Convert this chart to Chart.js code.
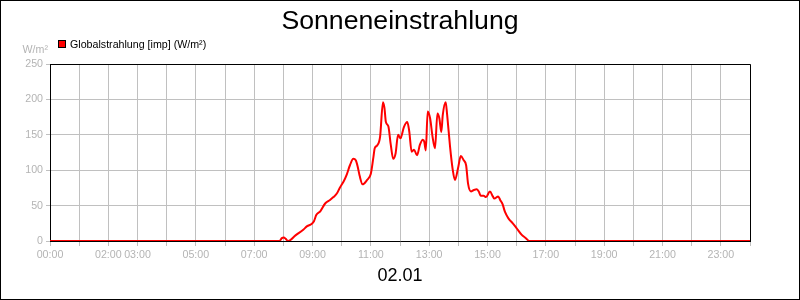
<!DOCTYPE html>
<html>
<head>
<meta charset="utf-8">
<script src="https://cdn.jsdelivr.net/npm/chart.js@4.4.0/dist/chart.umd.min.js"></script>
<style>
  html, body { margin: 0; padding: 0; background: #fff; }
</style>
</head>
<body>
<canvas id="grafico" width="800" height="300"></canvas>
<script>
const titel = 'Sonneneinstrahlung';
const reiheName = 'Globalstrahlung [imp] (W/m²)';
const einheit = 'W/m²';
const datum = '02.01';

// Messzeitpunkte (HH:MM) und Werte in W/m²
const zeiten = [
  '00:00', '07:52', '07:57', '08:01', '08:05', '08:10', '08:25', '08:41', '08:49', '08:58',
  '09:03', '09:08', '09:16', '09:26', '09:36', '09:43', '09:50', '09:56', '10:04', '10:10',
  '10:17', '10:24', '10:29', '10:33', '10:37', '10:43', '10:52', '11:00', '11:05', '11:08',
  '11:13', '11:19', '11:25', '11:28', '11:31', '11:36', '11:41', '11:46', '11:51', '11:56',
  '12:01', '12:08', '12:15', '12:19', '12:24', '12:29', '12:35', '12:41', '12:47', '12:50',
  '12:53', '12:57', '13:02', '13:07', '13:12', '13:17', '13:21', '13:25', '13:28', '13:34',
  '13:37', '13:43', '13:48', '13:53', '14:00', '14:05', '14:11', '14:16', '14:20', '14:26',
  '14:32', '14:38', '14:42', '14:46', '14:52', '14:57', '15:05', '15:11', '15:14', '15:22',
  '15:26', '15:31', '15:36', '15:43', '15:52', '16:00', '16:10', '16:19', '16:26', '24:00'
];
const werte = [
  0, 0, 4, 5, 3, 0, 8, 16, 21, 24,
  28, 37, 42, 53, 58, 62, 67, 75, 84, 93,
  107, 116, 114, 105, 92, 80, 86, 95, 117, 131,
  135, 147, 196, 188, 168, 162, 136, 116, 124, 150,
  145, 161, 168, 155, 126, 129, 121, 136, 143, 140,
  128, 183, 173, 147, 131, 180, 173, 154, 178, 196,
  178, 133, 103, 86, 105, 120, 114, 107, 81, 70,
  72, 73, 70, 64, 64, 62, 70, 63, 60, 63,
  58, 52, 41, 32, 25, 18, 9, 4, 0, 0
];

// beschriftete Stunden auf der x-Achse
const stundenLabels = ['00:00', '02:00', '03:00', '05:00', '07:00', '09:00', '11:00',
  '13:00', '15:00', '17:00', '19:00', '21:00', '23:00'];

const schrift = '"Liberation Sans", Arial, sans-serif';
const grau = '#b4b4b4';

function zuStunden(t) {
  const [h, m] = t.split(':').map(Number);
  return h + m / 60;
}

// Rahmen oben/rechts (unten zeichnet die Achse selbst), Titel, Legende, Einheit
const rahmen = {
  id: 'rahmen',
  beforeDatasetsDraw(chart) {
    const ctx = chart.ctx;
    const a = chart.chartArea;
    const l = Math.round(a.left) + 0.5, t = Math.round(a.top) + 0.5;
    const r = Math.round(a.right) + 0.5, b = Math.round(a.bottom);
    ctx.save();
    ctx.strokeStyle = '#000';
    ctx.lineWidth = 1;
    ctx.beginPath();
    ctx.moveTo(l, b);
    ctx.lineTo(l, t);
    ctx.lineTo(r, t);
    ctx.lineTo(r, b);
    ctx.stroke();
    ctx.restore();
  },
  afterDraw(chart) {
    const ctx = chart.ctx;
    ctx.save();
    ctx.strokeStyle = '#000';
    ctx.lineWidth = 1;
    ctx.strokeRect(0.5, 0.5, chart.width - 1, chart.height - 1);

    ctx.fillStyle = '#000';
    ctx.textAlign = 'center';
    ctx.textBaseline = 'alphabetic';
    ctx.font = '26.67px ' + schrift;
    ctx.fillText(titel, chart.width / 2, 28.5);

    ctx.fillStyle = '#ff0000';
    ctx.fillRect(58.5, 40.5, 7, 7);
    ctx.strokeRect(58.5, 40.5, 7, 7);
    ctx.fillStyle = '#000';
    ctx.textAlign = 'left';
    ctx.font = '10.67px ' + schrift;
    ctx.fillText(reiheName, 70, 48);

    ctx.fillStyle = grau;
    ctx.fillText(einheit, 22.5, 52.5);
    ctx.restore();
  }
};

new Chart(document.getElementById('grafico'), {
  type: 'line',
  data: {
    datasets: [{
      label: reiheName,
      data: zeiten.map((t, i) => ({ x: zuStunden(t), y: werte[i] })),
      borderColor: '#ff0000',
      borderWidth: 2,
      pointRadius: 0,
      cubicInterpolationMode: 'monotone',
      fill: false
    }]
  },
  options: {
    responsive: false,
    animation: false,
    layout: { padding: { top: 64, right: 50, left: 0, bottom: 0 } },
    plugins: {
      legend: { display: false },
      title: { display: false },
      tooltip: { enabled: false }
    },
    scales: {
      x: {
        type: 'linear',
        min: 0,
        max: 24,
        afterBuildTicks: s => {
          const t = [];
          for (let h = 0; h <= 24; h++) t.push({ value: h });
          s.ticks = t;
        },
        ticks: {
          autoSkip: false,
          maxRotation: 0,
          color: grau,
          padding: 3,
          font: { family: schrift, size: 10.67 },
          callback: v => {
            const l = String(v).padStart(2, '0') + ':00';
            return stundenLabels.includes(l) ? l : '';
          }
        },
        grid: { color: '#c0c0c0', tickLength: 5 },
        border: { color: '#000' },
        title: {
          display: true,
          text: datum,
          color: '#000',
          font: { family: schrift, size: 18 },
          padding: { top: 0, bottom: 13 }
        },
        afterFit: s => { s.height = 59; }
      },
      y: {
        min: 0,
        max: 250,
        ticks: {
          stepSize: 50,
          color: grau,
          padding: 3,
          font: { family: schrift, size: 10.67 }
        },
        grid: { color: '#c0c0c0', tickLength: 4 },
        border: { color: '#000' },
        afterFit: s => { s.width = 50; }
      }
    }
  },
  plugins: [rahmen]
});
</script>
</body>
</html>
